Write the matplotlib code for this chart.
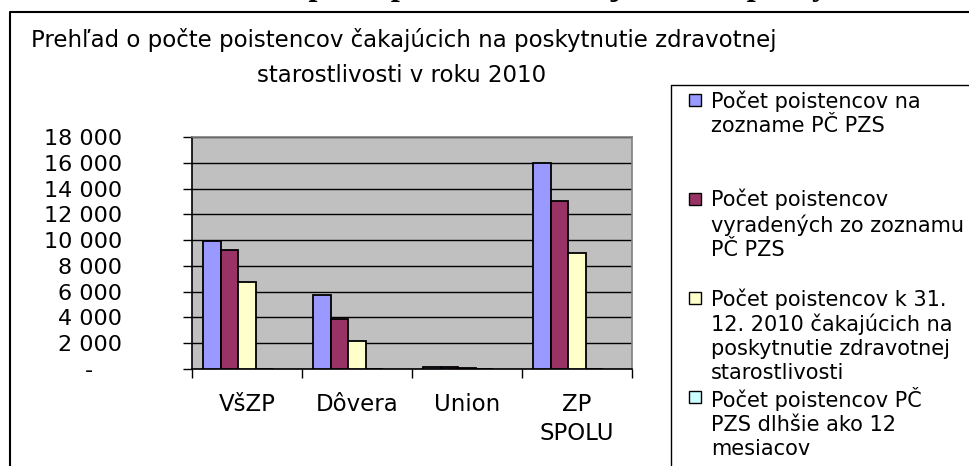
import matplotlib
matplotlib.use("Agg")
import matplotlib.pyplot as plt
from matplotlib.patches import Rectangle
import numpy as np

# udaje z grafu (rok 2010)
categories = ["VšZP", "Dôvera", "Union", "ZP\nSPOLU"]
na_zozname = [9900, 5750, 150, 15950]
vyradeni = [9200, 3850, 130, 13050]
cakajuci_k_31_12 = [6750, 2150, 100, 9000]
dlhsie_12_mesiacov = [0, 0, 0, 0]

series_labels = [
    "Počet poistencov na\nzozname PČ PZS",
    "Počet poistencov\nvyradených zo zoznamu\nPČ PZS",
    "Počet poistencov k 31.\n12. 2010 čakajúcich na\nposkytnutie zdravotnej\nstarostlivosti",
    "Počet poistencov PČ\nPZS dlhšie ako 12\nmesiacov",
]
series_colors = ["#9999FF", "#993366", "#FFFFCC", "#CCFFFF"]
y_ticks = list(range(0, 18001, 2000))

chart_title = "Prehľad o počte poistencov čakajúcich na poskytnutie zdravotnej"
chart_title2 = "starostlivosti v roku 2010"
heading = "Prehľad o počte poistencov čakajúcich na poskytnutie zdravotnej starostlivosti"

W, H = 970, 466
fig = plt.figure(figsize=(W / 100, H / 100), dpi=100)

# pomocna vrstva v pixeloch (ramik, nadpisy, legenda)
bg = fig.add_axes([0, 0, 1, 1])
bg.set_xlim(0, W)
bg.set_ylim(H, 0)
bg.axis("off")

ax = fig.add_axes([192 / W, 1 - 369 / H, 440 / W, 232 / H])
ax.set_facecolor("#C0C0C0")

x = np.arange(len(categories))
width = 0.16
offsets = [-0.32, -0.16, 0.0, 0.16]
all_series = [na_zozname, vyradeni, cakajuci_k_31_12, dlhsie_12_mesiacov]
for vals, off, col in zip(all_series, offsets, series_colors):
    ax.bar(x + off, vals, width=width, color=col, edgecolor="black",
           linewidth=1.3, zorder=3)

ax.set_xlim(-0.5, len(categories) - 0.5)
ax.set_ylim(0, 18000)
ax.set_yticks(y_ticks)
ax.set_yticklabels([f"{v:,}".replace(",", " ") if v else "-    " for v in y_ticks])
ax.yaxis.grid(True, color="black", linewidth=1)
ax.set_axisbelow(True)
ax.tick_params(axis="y", direction="out", length=6.5, width=1, pad=44,
               labelsize=16)

ax.set_xticks(x)
ax.set_xticklabels(categories)
ax.set_xticks(np.arange(-0.5, len(categories)), minor=True)
ax.tick_params(axis="x", which="major", length=0, pad=17, labelsize=16.5)
ax.tick_params(axis="x", which="minor", direction="out", length=6.5, width=1)
for lab in ax.get_xticklabels():
    lab.set_linespacing(1.35)

for s in ["left", "bottom"]:
    ax.spines[s].set_color("black")
    ax.spines[s].set_linewidth(1.2)
for s in ["top", "right"]:
    ax.spines[s].set_color("#808080")
    ax.spines[s].set_linewidth(1.2)

# ramik grafu a legendy
bg.plot([10, 10, W + 5], [H + 5, 12, 12], color="black", lw=1.5)
bg.plot([671, 671, W + 5], [H + 5, 85, 85], color="black", lw=1)

# nadpisy (horny nadpis je v originali orezany)
bg.text(160, -5, heading, ha="left", va="baseline", fontsize=23.5,
        fontweight="bold", family="Liberation Serif")
bg.text(404, 40, chart_title, ha="center", va="center", fontsize=16.5)
bg.text(402, 76, chart_title2, ha="center", va="center", fontsize=16.5)

# legenda
for i, (lab, col) in enumerate(zip(series_labels, series_colors)):
    y0 = 100 + i * 99
    bg.add_patch(Rectangle((689, y0 - 6), 12, 12, facecolor=col,
                           edgecolor="black", lw=1))
    bg.text(711, y0 - 10, lab, ha="left", va="top", fontsize=15,
            linespacing=1.25)

fig.savefig("out.png", dpi=100)
